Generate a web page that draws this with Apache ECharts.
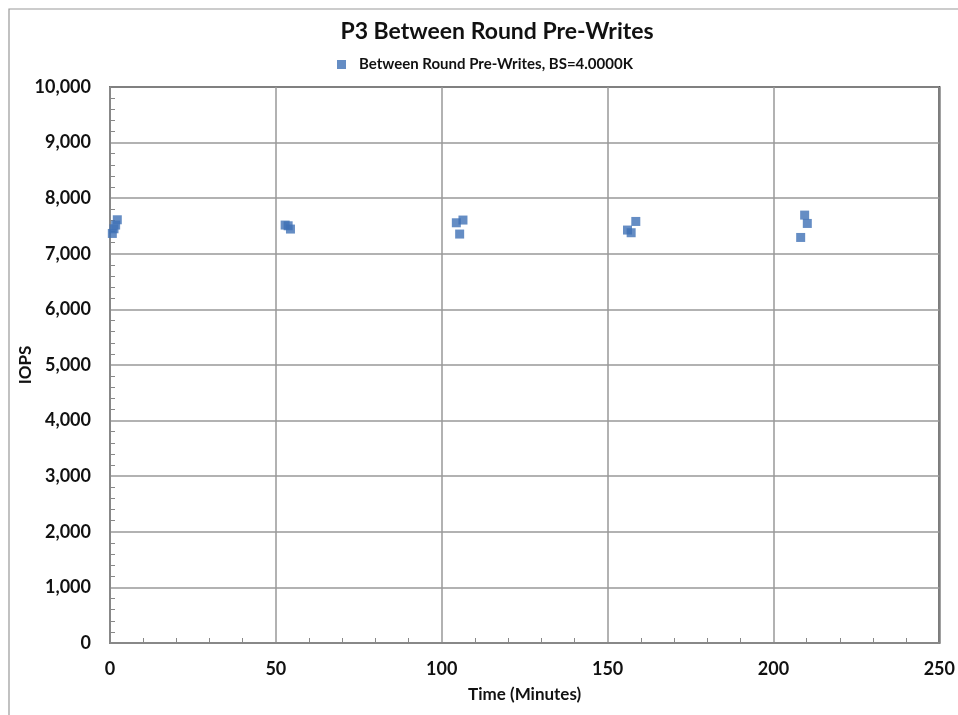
<!DOCTYPE html>
<html>
<head>
<meta charset="utf-8">
<script src="https://cdn.jsdelivr.net/npm/echarts@6/dist/echarts.min.js"></script>
<style>html,body{margin:0;padding:0;background:#fff}#c{width:958px;height:715px}</style>
</head>
<body>
<div id="c"></div>
<script>
var titleText = 'P3 Between Round Pre-Writes';
var seriesName = 'Between Round Pre-Writes, BS=4.0000K';
var xTitle = 'Time (Minutes)';
var yTitle = 'IOPS';
var times = [0.7, 1.2, 1.7, 2.2, 52.8, 53.7, 54.4, 104.4, 106.4, 105.4, 158.5, 156.0, 157.1, 209.4, 210.2, 208.2];
var iops  = [7366, 7450, 7517, 7612, 7517, 7504, 7445, 7558, 7607, 7355, 7582, 7427, 7379, 7696, 7546, 7294];

var font = 'Lato, "Open Sans", sans-serif';
var chart = echarts.init(document.getElementById('c'));
chart.setOption({
  animation: false,
  backgroundColor: '#fff',
  graphic: [{type:'rect', shape:{x:9, y:9, width:980, height:740}, style:{fill:'none', stroke:'#999', lineWidth:1.2}, silent:true}],
  title: {text: titleText, left: 492, top: 15, textAlign: 'center',
    textStyle: {fontFamily: font, fontWeight: 'bold', fontSize: 23, color: '#111'}},
  legend: {data: [seriesName], left: 332, top: 52, itemWidth: 9, itemHeight: 9, itemGap: 10,
    icon: 'rect',
    textStyle: {fontFamily: font, fontWeight: 'bold', fontSize: 15, color: '#111', padding:[0,0,0,8]}},
  grid: {left: 110, top: 87, right: 18, bottom: 72, show: true, borderColor: '#3a3a3a', borderWidth: 2, containLabel: false},
  xAxis: {type: 'value', min: 0, max: 250, interval: 50,
    name: xTitle, nameLocation: 'middle', nameGap: 43, nameMoveOverlap: false,
    nameTextStyle: {fontFamily: font, fontWeight: 'bold', fontSize: 17, color: '#111'},
    axisLine: {show: true, lineStyle: {color: '#888', width: 2}},
    axisTick: {show: false, inside: true},
    minorTick: {show: true, splitNumber: 5, length: 5, lineStyle: {color: '#888', width: 1}},
    axisLabel: {fontFamily: font, fontWeight: 'bold', fontSize: 18, color: '#111', margin: 17},
    splitLine: {show: true, lineStyle: {color: '#999', width: 1.5}}},
  yAxis: {type: 'value', min: 0, max: 10000, interval: 1000,
    name: yTitle, nameLocation: 'middle', nameGap: 76, nameRotate: 90, nameMoveOverlap: false,
    nameTextStyle: {fontFamily: font, fontWeight: 'bold', fontSize: 17, color: '#111'},
    axisLine: {show: true, lineStyle: {color: '#888', width: 2}},
    axisTick: {show: false, inside: true},
    minorTick: {show: true, splitNumber: 5, length: 5, lineStyle: {color: '#888', width: 1}},
    axisLabel: {fontFamily: font, fontWeight: 'bold', fontSize: 18, color: '#111', margin: 19,
      formatter: function(v){ return v.toString().replace(/\B(?=(\d{3})+(?!\d))/g, ','); }},
    splitLine: {show: true, lineStyle: {color: '#999', width: 1.5}}},
  series: [{name: seriesName, type: 'scatter', symbol: 'rect', symbolSize: 9,
    itemStyle: {color: '#3f70b5'},
    data: times.map(function(t, i){ return [t, iops[i]]; })}]
});
</script>
</body>
</html>
